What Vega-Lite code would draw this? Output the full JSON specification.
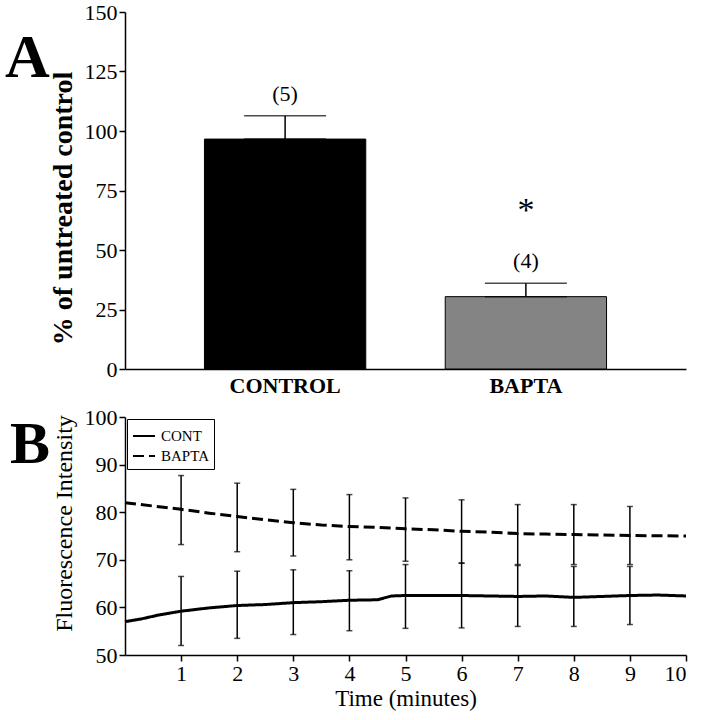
{
  "$schema": "https://vega.github.io/schema/vega-lite/v6.json",
  "background": "white",
  "padding": {"left": 5, "top": 1, "right": 5, "bottom": 5},
  "spacing": 48,
  "bounds": "flush",
  "resolve": {"scale": {"strokeDash": "independent"}, "legend": {"strokeDash": "independent"}},
  "config": {
    "view": {"stroke": null},
    "font": "Liberation Serif",
    "axis": {
      "labelFont": "Liberation Serif", "titleFont": "Liberation Serif",
      "labelColor": "black", "titleColor": "black",
      "domainColor": "black", "tickColor": "black",
      "domainWidth": 1.5, "tickWidth": 1.5, "tickSize": 6,
      "grid": false, "labelFontSize": 22, "titleFontSize": 23,
      "titleFontWeight": "normal", "labelPadding": 2
    },
    "legend": {
      "labelFont": "Liberation Serif", "labelFontSize": 15, "labelColor": "black"
    }
  },
  "vconcat": [
    {
      "width": 561,
      "height": 357,
      "title": {"text": "A", "anchor": "start", "frame": "group", "fontSize": 62, "font": "Liberation Serif", "fontWeight": "bold", "color": "black", "dx": -120, "dy": 89, "offset": 0},
      "data": {"values": [
        {"group": "CONTROL", "value": 96.6, "upper": 106.4, "n": "(5)", "sig": ""},
        {"group": "BAPTA", "value": 30.4, "upper": 36.0, "n": "(4)", "sig": "*"}
      ]},
      "encoding": {
        "x": {"field": "group", "type": "nominal", "sort": ["CONTROL", "BAPTA"],
          "scale": {"paddingInner": 0.33, "paddingOuter": 0.33},
          "axis": {"title": null, "ticks": false, "labelAngle": 0, "labelFontWeight": "bold", "labelFontSize": 22, "labelPadding": 6}}
      },
      "layer": [
        {
          "mark": {"type": "bar", "stroke": "black", "strokeWidth": 1},
          "encoding": {
            "y": {"field": "value", "type": "quantitative", "scale": {"domain": [0, 150], "nice": false},
              "title": "% of untreated control",
              "axis": {"values": [0, 25, 50, 75, 100, 125, 150], "titleFontWeight": "bold", "titleFontSize": 28, "titlePadding": 7, "titleY": 196}},
            "color": {"field": "group", "type": "nominal", "scale": {"domain": ["CONTROL", "BAPTA"], "range": ["black", "#848484"]}, "legend": null}
          }
        },
        {
          "mark": {"type": "errorbar", "color": "black", "ticks": {"size": 82, "thickness": 1.5, "color": "black"}, "rule": {"strokeWidth": 1.5, "color": "black"}},
          "encoding": {
            "y": {"field": "value", "type": "quantitative", "title": "% of untreated control", "scale": {"domain": [0, 150], "nice": false}},
            "y2": {"field": "upper"}
          }
        },
        {
          "mark": {"type": "text", "dy": -22, "fontSize": 22, "font": "Liberation Serif", "baseline": "middle", "color": "black"},
          "encoding": {
            "y": {"field": "upper", "type": "quantitative", "title": "% of untreated control", "scale": {"domain": [0, 150], "nice": false}},
            "text": {"field": "n"}
          }
        },
        {
          "mark": {"type": "text", "dy": -72, "fontSize": 34, "font": "Liberation Serif", "baseline": "middle", "color": "black"},
          "encoding": {
            "y": {"field": "upper", "type": "quantitative", "title": "% of untreated control", "scale": {"domain": [0, 150], "nice": false}},
            "text": {"field": "sig"}
          }
        }
      ]
    },
    {
      "width": 561,
      "height": 238,
      "title": {"text": "B", "anchor": "start", "frame": "group", "fontSize": 60, "font": "Liberation Serif", "fontWeight": "bold", "color": "black", "dx": -115, "dy": 70, "offset": 0},
      "layer": [
        {
          "data": {"values": [
            {"series": "CONT", "time": 0, "intensity": 57.0},
            {"series": "CONT", "time": 0.3, "intensity": 57.6},
            {"series": "CONT", "time": 0.6, "intensity": 58.4},
            {"series": "CONT", "time": 1, "intensity": 59.2},
            {"series": "CONT", "time": 1.5, "intensity": 59.9},
            {"series": "CONT", "time": 2, "intensity": 60.4},
            {"series": "CONT", "time": 2.5, "intensity": 60.6},
            {"series": "CONT", "time": 3, "intensity": 61.0},
            {"series": "CONT", "time": 3.5, "intensity": 61.2},
            {"series": "CONT", "time": 4, "intensity": 61.5},
            {"series": "CONT", "time": 4.5, "intensity": 61.6},
            {"series": "CONT", "time": 4.75, "intensity": 62.4},
            {"series": "CONT", "time": 5, "intensity": 62.5},
            {"series": "CONT", "time": 6, "intensity": 62.5},
            {"series": "CONT", "time": 7, "intensity": 62.3},
            {"series": "CONT", "time": 7.5, "intensity": 62.4},
            {"series": "CONT", "time": 8, "intensity": 62.1},
            {"series": "CONT", "time": 8.5, "intensity": 62.3},
            {"series": "CONT", "time": 9, "intensity": 62.5},
            {"series": "CONT", "time": 9.5, "intensity": 62.6},
            {"series": "CONT", "time": 10, "intensity": 62.4},
            {"series": "BAPTA", "time": 0, "intensity": 82.0},
            {"series": "BAPTA", "time": 0.5, "intensity": 81.3},
            {"series": "BAPTA", "time": 1, "intensity": 80.6},
            {"series": "BAPTA", "time": 1.5, "intensity": 79.8},
            {"series": "BAPTA", "time": 2, "intensity": 79.1},
            {"series": "BAPTA", "time": 2.5, "intensity": 78.4},
            {"series": "BAPTA", "time": 3, "intensity": 77.8},
            {"series": "BAPTA", "time": 3.5, "intensity": 77.3},
            {"series": "BAPTA", "time": 4, "intensity": 77.0},
            {"series": "BAPTA", "time": 4.5, "intensity": 76.8},
            {"series": "BAPTA", "time": 5, "intensity": 76.5},
            {"series": "BAPTA", "time": 5.5, "intensity": 76.3},
            {"series": "BAPTA", "time": 6, "intensity": 76.0},
            {"series": "BAPTA", "time": 6.5, "intensity": 75.8},
            {"series": "BAPTA", "time": 7, "intensity": 75.5},
            {"series": "BAPTA", "time": 7.5, "intensity": 75.4},
            {"series": "BAPTA", "time": 8, "intensity": 75.3},
            {"series": "BAPTA", "time": 8.5, "intensity": 75.2},
            {"series": "BAPTA", "time": 9, "intensity": 75.1},
            {"series": "BAPTA", "time": 10, "intensity": 75.0}
          ]},
          "mark": {"type": "line", "strokeWidth": 3, "color": "black"},
          "encoding": {
            "x": {"field": "time", "type": "quantitative", "scale": {"domain": [0, 10], "nice": false}, "title": "Time (minutes)",
              "axis": {"values": [1, 2, 3, 4, 5, 6, 7, 8, 9, 10], "format": "d", "titlePadding": 3}},
            "y": {"field": "intensity", "type": "quantitative", "scale": {"domain": [50, 100], "nice": false}, "title": "Fluorescence Intensity",
              "axis": {"values": [50, 60, 70, 80, 90, 100], "format": "d", "titlePadding": 8, "titleFontSize": 24, "titleY": 106}},
            "strokeDash": {"field": "series", "type": "nominal",
              "scale": {"domain": ["CONT", "BAPTA"], "range": [[1, 0], [11, 5]]},
              "legend": {"title": null, "orient": "top-left", "offset": 2, "symbolType": "stroke", "symbolSize": 484,
                "symbolStrokeWidth": 2, "symbolStrokeColor": "black", "strokeColor": "black", "fillColor": "white",
                "padding": 5, "rowPadding": -2, "labelOffset": 5}}
          }
        },
        {
          "data": {"values": [
            {"series": "CONT", "time": 1, "lo": 52.0, "hi": 66.5},
            {"series": "CONT", "time": 2, "lo": 53.5, "hi": 67.6},
            {"series": "CONT", "time": 3, "lo": 54.3, "hi": 67.9},
            {"series": "CONT", "time": 4, "lo": 55.1, "hi": 67.7},
            {"series": "CONT", "time": 5, "lo": 55.6, "hi": 69.0},
            {"series": "CONT", "time": 6, "lo": 55.7, "hi": 69.3},
            {"series": "CONT", "time": 7, "lo": 56.0, "hi": 68.8},
            {"series": "CONT", "time": 8, "lo": 56.0, "hi": 68.6},
            {"series": "CONT", "time": 9, "lo": 56.4, "hi": 68.6},
            {"series": "BAPTA", "time": 1, "lo": 73.2, "hi": 87.7},
            {"series": "BAPTA", "time": 2, "lo": 71.7, "hi": 86.1},
            {"series": "BAPTA", "time": 3, "lo": 70.8, "hi": 84.8},
            {"series": "BAPTA", "time": 4, "lo": 70.0, "hi": 83.7},
            {"series": "BAPTA", "time": 5, "lo": 69.7, "hi": 83.0},
            {"series": "BAPTA", "time": 6, "lo": 69.3, "hi": 82.6},
            {"series": "BAPTA", "time": 7, "lo": 69.0, "hi": 81.6},
            {"series": "BAPTA", "time": 8, "lo": 69.0, "hi": 81.6},
            {"series": "BAPTA", "time": 9, "lo": 69.0, "hi": 81.2}
          ]},
          "mark": {"type": "errorbar", "color": "black", "ticks": {"size": 6, "thickness": 1.5, "color": "black"}, "rule": {"strokeWidth": 1.5, "color": "black"}},
          "encoding": {
            "x": {"field": "time", "type": "quantitative", "title": "Time (minutes)", "scale": {"domain": [0, 10], "nice": false}},
            "y": {"field": "lo", "type": "quantitative", "title": "Fluorescence Intensity", "scale": {"domain": [50, 100], "nice": false}},
            "y2": {"field": "hi"},
            "detail": {"field": "series", "type": "nominal"}
          }
        }
      ]
    }
  ]
}
